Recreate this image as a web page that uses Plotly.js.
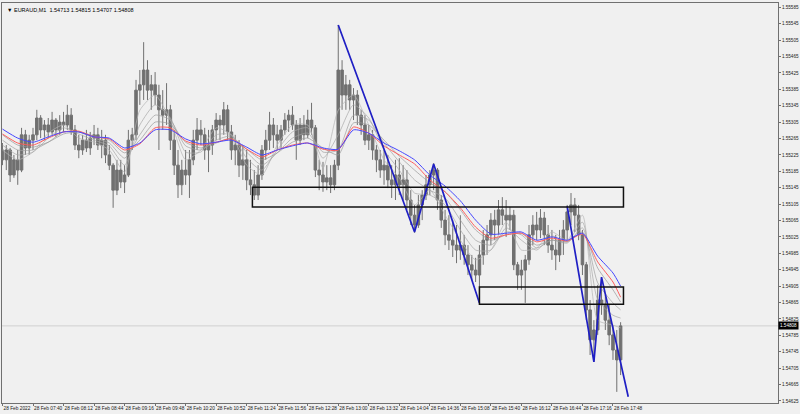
<!DOCTYPE html>
<html>
<head>
<meta charset="utf-8">
<script src="https://cdn.plot.ly/plotly-3.0.1.min.js"></script>
<style>
html,body{margin:0;padding:0;background:#f0f0f0;}
#chart{width:800px;height:414px;}
</style>
</head>
<body>
<div id="chart"></div>
<script>
const DAY = "2022-02-28 ";
const symbolText = "▼ EURAUD,M1  1.54713 1.54815 1.54707 1.54808";
const currentPrice = 1.54808;

const barTimes = [
"07:08","07:12","07:16","07:20","07:24","07:28","07:32","07:36","07:40","07:44","07:48","07:52","07:56",
"08:00","08:04","08:08","08:12","08:16","08:20","08:24","08:28","08:32","08:36","08:40","08:44","08:48","08:52","08:56",
"09:00","09:04","09:08","09:12","09:16","09:20","09:24","09:28","09:32","09:36","09:40","09:44","09:48","09:52","09:56",
"10:00","10:04","10:08","10:12","10:16","10:20","10:24","10:28","10:32","10:36","10:40","10:44","10:48","10:52","10:56",
"11:00","11:04","11:08","11:12","11:16","11:20","11:24","11:28","11:32","11:36","11:40","11:44","11:48","11:52","11:56",
"12:00","12:04","12:08","12:12","12:16","12:20","12:24","12:28","12:32","12:36","12:40","12:44","12:48","12:52","12:56",
"13:00","13:04","13:08","13:12","13:16","13:20","13:24","13:28","13:32","13:36","13:40","13:44","13:48","13:52","13:56",
"14:00","14:04","14:08","14:12","14:16","14:20","14:24","14:28","14:32","14:36","14:40","14:44","14:48","14:52","14:56",
"15:00","15:04","15:08","15:12","15:16","15:20","15:24","15:28","15:32","15:36","15:40","15:44","15:48","15:52","15:56",
"16:00","16:04","16:08","16:12","16:16","16:20","16:24","16:28","16:32","16:36","16:40","16:44","16:48","16:52","16:56",
"17:00","17:04","17:08","17:12","17:16","17:20","17:24","17:28","17:32","17:36","17:40","17:44","17:48","17:52","17:56"];

const barOpen = [
1.55237,1.55213,1.55237,1.55176,1.55213,1.55188,1.55274,1.55242,1.55261,1.55274,1.55315,1.55286,1.55298,
1.55281,1.55310,1.55286,1.55305,1.55298,1.55322,1.55286,1.55249,1.55237,1.55261,1.55242,1.55266,1.55274,1.55249,1.55261,
1.55225,1.55200,1.55139,1.55188,1.55159,1.55176,1.55261,1.55274,1.55383,1.55396,1.55432,1.55383,1.55396,1.55371,1.55335,
1.55322,1.55335,1.55261,1.55200,1.55152,1.55188,1.55176,1.55213,1.55261,1.55286,1.55274,1.55237,1.55249,1.55286,1.55310,
1.55298,1.55335,1.55281,1.55237,1.55249,1.55200,1.55213,1.55164,1.55152,1.55127,1.55176,1.55237,1.55261,1.55298,1.55274,
1.55261,1.55286,1.55310,1.55322,1.55298,1.55261,1.55298,1.55274,1.55310,1.55291,1.55188,1.55176,1.55159,1.55169,1.55152,
1.55200,1.55432,1.55371,1.55396,1.55359,1.55371,1.55322,1.55298,1.55261,1.55274,1.55237,1.55213,1.55188,1.55200,1.55164,
1.55152,1.55176,1.55152,1.55164,1.55115,1.55078,1.55054,1.55103,1.55127,1.55152,1.55176,1.55188,1.55115,1.55066,1.55030,
1.55017,1.55005,1.54993,1.55005,1.54981,1.54957,1.54944,1.54932,1.54981,1.55017,1.55030,1.55066,1.55054,1.55091,1.55078,
1.55066,1.55078,1.54957,1.54932,1.54944,1.54969,1.55030,1.55054,1.55042,1.55071,1.55030,1.55005,1.54993,1.54981,1.55017,
1.55042,1.55086,1.55103,1.55078,1.55030,1.54957,1.54847,1.54774,1.54798,1.54871,1.54859,1.54822,1.54786,1.54749,1.54725];

const barHigh = [
1.55254,1.55249,1.55242,1.55225,1.55237,1.55291,1.55286,1.55274,1.55291,1.55335,1.55322,1.55310,1.55315,
1.55330,1.55315,1.55322,1.55330,1.55347,1.55339,1.55298,1.55274,1.55274,1.55286,1.55281,1.55298,1.55291,1.55286,1.55274,
1.55249,1.55205,1.55213,1.55213,1.55200,1.55286,1.55291,1.55408,1.55432,1.55500,1.55456,1.55420,1.55427,1.55396,1.55383,
1.55400,1.55347,1.55286,1.55237,1.55213,1.55237,1.55237,1.55286,1.55315,1.55310,1.55291,1.55286,1.55298,1.55327,1.55322,
1.55354,1.55347,1.55298,1.55274,1.55261,1.55249,1.55237,1.55213,1.55188,1.55200,1.55249,1.55286,1.55330,1.55315,1.55298,
1.55298,1.55327,1.55335,1.55344,1.55310,1.55315,1.55322,1.55335,1.55352,1.55298,1.55213,1.55208,1.55200,1.55200,1.55213,
1.55542,1.55456,1.55420,1.55408,1.55388,1.55383,1.55335,1.55322,1.55298,1.55286,1.55249,1.55237,1.55237,1.55225,1.55200,
1.55213,1.55217,1.55200,1.55188,1.55139,1.55103,1.55127,1.55139,1.55176,1.55188,1.55205,1.55193,1.55127,1.55091,1.55078,
1.55066,1.55054,1.55078,1.55030,1.55005,1.54981,1.54974,1.55005,1.55042,1.55054,1.55083,1.55091,1.55115,1.55122,1.55115,
1.55098,1.55091,1.54964,1.54969,1.54981,1.55054,1.55078,1.55086,1.55093,1.55086,1.55054,1.55042,1.55030,1.55042,1.55066,
1.55103,1.55132,1.55120,1.55103,1.55042,1.54964,1.54871,1.54822,1.54908,1.54927,1.54883,1.54859,1.54810,1.54798,1.54817];

const barLow = [
1.55200,1.55188,1.55159,1.55169,1.55152,1.55183,1.55225,1.55225,1.55237,1.55261,1.55266,1.55261,1.55266,
1.55274,1.55269,1.55274,1.55281,1.55286,1.55274,1.55237,1.55217,1.55225,1.55232,1.55225,1.55249,1.55237,1.55217,1.55205,
1.55188,1.55096,1.55127,1.55144,1.55132,1.55171,1.55237,1.55261,1.55347,1.55359,1.55359,1.55335,1.55347,1.55237,1.55286,
1.55298,1.55237,1.55176,1.55120,1.55127,1.55152,1.55120,1.55200,1.55237,1.55249,1.55213,1.55183,1.55225,1.55261,1.55261,
1.55274,1.55261,1.55213,1.55200,1.55171,1.55164,1.55139,1.55127,1.55115,1.55115,1.55164,1.55213,1.55237,1.55242,1.55237,
1.55242,1.55274,1.55281,1.55286,1.55213,1.55249,1.55261,1.55266,1.55274,1.55171,1.55139,1.55135,1.55139,1.55132,1.55139,
1.55188,1.55335,1.55335,1.55335,1.55310,1.55298,1.55274,1.55249,1.55237,1.55213,1.55183,1.55169,1.55152,1.55144,1.55120,
1.55115,1.55127,1.55115,1.55091,1.55054,1.55035,1.55047,1.55066,1.55115,1.55127,1.55139,1.55091,1.55047,1.55005,1.54993,
1.54976,1.54961,1.54969,1.54957,1.54932,1.54920,1.54915,1.54866,1.54957,1.54981,1.55005,1.55017,1.55030,1.55054,1.55025,
1.55042,1.54944,1.54896,1.54896,1.54864,1.54957,1.55005,1.55017,1.55022,1.55005,1.54986,1.54969,1.54944,1.54964,1.54981,
1.55017,1.55054,1.55037,1.55017,1.54932,1.54822,1.54737,1.54720,1.54786,1.54835,1.54798,1.54761,1.54725,1.54647,1.54688];

const barClose = [
1.55213,1.55237,1.55176,1.55213,1.55188,1.55274,1.55242,1.55261,1.55274,1.55315,1.55286,1.55298,1.55281,
1.55310,1.55286,1.55305,1.55298,1.55322,1.55286,1.55249,1.55237,1.55261,1.55242,1.55266,1.55274,1.55249,1.55261,1.55225,
1.55200,1.55139,1.55188,1.55159,1.55176,1.55261,1.55274,1.55383,1.55396,1.55432,1.55383,1.55396,1.55371,1.55335,1.55322,
1.55335,1.55261,1.55200,1.55152,1.55188,1.55176,1.55213,1.55261,1.55286,1.55274,1.55237,1.55249,1.55286,1.55310,1.55298,
1.55335,1.55281,1.55237,1.55249,1.55200,1.55213,1.55164,1.55152,1.55127,1.55176,1.55237,1.55261,1.55298,1.55274,1.55261,
1.55286,1.55310,1.55322,1.55298,1.55261,1.55298,1.55274,1.55310,1.55291,1.55188,1.55176,1.55159,1.55169,1.55152,1.55200,
1.55432,1.55371,1.55396,1.55359,1.55371,1.55322,1.55298,1.55261,1.55274,1.55237,1.55213,1.55188,1.55200,1.55164,1.55152,
1.55176,1.55152,1.55164,1.55115,1.55078,1.55054,1.55103,1.55127,1.55152,1.55176,1.55188,1.55115,1.55066,1.55030,1.55017,
1.55005,1.54993,1.55005,1.54981,1.54957,1.54944,1.54932,1.54981,1.55017,1.55030,1.55066,1.55054,1.55091,1.55078,1.55066,
1.55078,1.54957,1.54932,1.54944,1.54969,1.55030,1.55054,1.55042,1.55071,1.55030,1.55005,1.54993,1.54981,1.55017,1.55042,
1.55086,1.55103,1.55078,1.55030,1.54957,1.54847,1.54774,1.54798,1.54871,1.54859,1.54822,1.54786,1.54749,1.54725,1.54808];

const maTimes = ["07:08","07:24","07:40","07:56","08:12","08:28","08:44","09:00","09:16","09:32",
"09:48","10:04","10:20","10:36","10:52","11:08","11:24","11:40","11:56","12:12",
"12:28","12:44","13:00","13:16","13:32","13:48","14:04","14:20","14:36","14:52",
"15:08","15:24","15:40","15:56","16:12","16:28","16:44","17:00","17:16","17:32","17:48","17:56"];

const maBlue = [1.55288,1.55266,1.55256,1.55269,1.55281,1.55281,1.55269,1.55266,1.55242,1.55254,
1.55286,1.55286,1.55264,1.55252,1.55256,1.55261,1.55244,1.55225,1.55237,1.55247,
1.55254,1.55242,1.55239,1.55286,1.55278,1.55254,1.55235,1.55213,1.55176,1.55149,
1.55113,1.55066,1.55032,1.55034,1.55037,1.55017,1.55025,1.55017,1.55034,1.54978,1.54937,1.54905];

const maRed = [1.55276,1.55254,1.55249,1.55266,1.55281,1.55283,1.55269,1.55264,1.55237,1.55252,
1.55291,1.55291,1.55259,1.55249,1.55256,1.55264,1.55239,1.55220,1.55237,1.55249,
1.55254,1.55239,1.55237,1.55293,1.55278,1.55247,1.55225,1.55203,1.55164,1.55135,
1.55096,1.55049,1.55022,1.55030,1.55034,1.55013,1.55022,1.55015,1.55032,1.54964,1.54915,1.54878];

const maGray1 = [1.55274,1.55249,1.55244,1.55256,1.55276,1.55281,1.55271,1.55261,1.55230,1.55261,
1.55305,1.55300,1.55256,1.55242,1.55254,1.55266,1.55239,1.55213,1.55230,1.55256,
1.55266,1.55242,1.55225,1.55303,1.55298,1.55261,1.55222,1.55188,1.55157,1.55135,
1.55091,1.55042,1.55017,1.55030,1.55034,1.55005,1.55017,1.55013,1.55037,1.54949,1.54896,1.54866];

const maGray2 = [1.55261,1.55237,1.55237,1.55256,1.55281,1.55281,1.55266,1.55254,1.55217,1.55274,
1.55322,1.55310,1.55247,1.55237,1.55261,1.55271,1.55232,1.55200,1.55230,1.55266,
1.55278,1.55232,1.55237,1.55322,1.55310,1.55254,1.55208,1.55164,1.55139,1.55120,
1.55066,1.55017,1.55005,1.55037,1.55030,1.54998,1.55017,1.55010,1.55047,1.54913,1.54864,1.54847];

const maGray3 = [1.55249,1.55225,1.55232,1.55266,1.55291,1.55276,1.55261,1.55247,1.55200,1.55298,
1.55347,1.55315,1.55232,1.55232,1.55274,1.55274,1.55217,1.55188,1.55237,1.55281,
1.55291,1.55217,1.55274,1.55347,1.55315,1.55237,1.55188,1.55132,1.55127,1.55103,
1.55042,1.54993,1.54993,1.55047,1.55017,1.54993,1.55027,1.55013,1.55061,1.54871,1.54834,1.54827];

const maGray4 = [1.55237,1.55213,1.55232,1.55278,1.55298,1.55266,1.55256,1.55237,1.55183,1.55334,
1.55371,1.55310,1.55213,1.55237,1.55291,1.55274,1.55200,1.55176,1.55249,1.55298,
1.55298,1.55193,1.55334,1.55371,1.55298,1.55213,1.55169,1.55103,1.55139,1.55078,
1.55017,1.54969,1.54993,1.55061,1.54993,1.54998,1.55037,1.55017,1.55078,1.54822,1.54810,1.54803];

const zigzag1Times = ["13:00","14:20","14:40","15:28"];
const zigzag1Prices = [1.55542,1.55037,1.55203,1.54864];
const zigzag2Times = ["17:00","17:28","17:36","18:04"];
const zigzag2Prices = [1.55100,1.54720,1.54927,1.54635];

const zoneStart = ["11:30","15:28"];
const zoneEnd = ["17:59","17:59"];
const zoneTop = [1.55146,1.54903];
const zoneBottom = [1.55098,1.54861];

const xTickTimes = ["07:08","07:40","08:12","08:44","09:16","09:48","10:20","10:52","11:24","11:56","12:28",
"13:00","13:32","14:04","14:36","15:08","15:40","16:12","16:44","17:16","17:48"];
const xTickLabels = ["28 Feb 2022","28 Feb 07:40","28 Feb 08:12","28 Feb 08:44","28 Feb 09:16","28 Feb 09:48",
"28 Feb 10:20","28 Feb 10:52","28 Feb 11:24","28 Feb 11:56","28 Feb 12:28","28 Feb 13:00","28 Feb 13:32",
"28 Feb 14:04","28 Feb 14:36","28 Feb 15:08","28 Feb 15:40","28 Feb 16:12","28 Feb 16:44","28 Feb 17:16","28 Feb 17:48"];

const toDate = t => DAY + t;
const GRAY = "#707070";

function maTrace(vals, color, width) {
  return {type: "scatter", mode: "lines", x: maTimes.map(toDate), y: vals,
    line: {color: color, width: width, shape: "spline", smoothing: 0.6}, hoverinfo: "skip", showlegend: false};
}

const traces = [
  {type: "candlestick", x: barTimes.map(toDate), open: barOpen, high: barHigh, low: barLow, close: barClose,
   increasing: {line: {color: GRAY, width: 1}, fillcolor: GRAY},
   decreasing: {line: {color: GRAY, width: 1}, fillcolor: GRAY},
   whiskerwidth: 0, hoverinfo: "skip", showlegend: false},
  maTrace(maGray4, "#b4b4b4", 0.7),
  maTrace(maGray3, "#a8a8a8", 0.7),
  maTrace(maGray2, "#a0a0a0", 0.7),
  maTrace(maGray1, "#989898", 0.7),
  maTrace(maRed, "#ff5c5c", 1),
  maTrace(maBlue, "#4646ff", 1),
  {type: "scatter", mode: "lines", x: zigzag1Times.map(toDate), y: zigzag1Prices,
   line: {color: "#1f1fc4", width: 1.7}, hoverinfo: "skip", showlegend: false},
  {type: "scatter", mode: "lines", x: zigzag2Times.map(toDate), y: zigzag2Prices,
   line: {color: "#1f1fc4", width: 1.7}, hoverinfo: "skip", showlegend: false}
];

const shapes = [
  {type: "line", xref: "paper", x0: 0, x1: 1, yref: "y", y0: currentPrice, y1: currentPrice,
   line: {color: "#d0d0d0", width: 1}, layer: "below"}
];
for (let k = 0; k < zoneStart.length; k++) {
  shapes.push({type: "rect", xref: "x", yref: "y",
    x0: toDate(zoneStart[k]), x1: toDate(zoneEnd[k]), y0: zoneBottom[k], y1: zoneTop[k],
    line: {color: "#101010", width: 1.5}, fillcolor: "rgba(0,0,0,0)"});
}

const layout = {
  width: 800, height: 414,
  margin: {l: 2, r: 22, t: 3, b: 11, pad: 0},
  paper_bgcolor: "#f0f0f0", plot_bgcolor: "#f0f0f0",
  font: {family: "Liberation Sans, Arial, sans-serif", size: 5, color: "#202020"},
  showlegend: false,
  boxgap: 0.05,
  xaxis: {
    type: "date",
    range: ["2022-02-28 07:07:30", "2022-02-28 20:41:00"],
    rangeslider: {visible: false},
    tickmode: "array", tickvals: xTickTimes.map(toDate), ticktext: xTickLabels,
    tickangle: 0,
    ticks: "outside", ticklen: 2, tickcolor: "#707070", tickwidth: 1,
    ticklabelposition: "outside right",
    tickfont: {size: 4.8, color: "#202020"},
    showgrid: false, zeroline: false,
    showline: true, linecolor: "#707070", linewidth: 1, mirror: true
  },
  yaxis: {
    side: "right",
    range: [1.546199, 1.555955],
    tickmode: "linear", tick0: 1.55585, dtick: 0.0004, tickformat: ".5f",
    ticks: "outside", ticklen: 2, tickcolor: "#707070", tickwidth: 1,
    tickfont: {size: 4.6, color: "#202020"},
    showgrid: false, zeroline: false,
    showline: true, linecolor: "#707070", linewidth: 1, mirror: true
  },
  shapes: shapes,
  annotations: [
    {xref: "paper", yref: "paper", x: 0, y: 1, xanchor: "left", yanchor: "top", xshift: 3, yshift: -2,
     text: symbolText, showarrow: false, font: {size: 5.5, color: "#000000"}},
    {xref: "paper", yref: "y", x: 1, y: currentPrice, xanchor: "left", yanchor: "middle", xshift: 0,
     text: currentPrice.toFixed(5), showarrow: false, bgcolor: "#000000", borderpad: 1,
     font: {size: 4.6, color: "#ffffff"}}
  ]
};

Plotly.newPlot("chart", traces, layout, {displayModeBar: false, staticPlot: true});
</script>
</body>
</html>
